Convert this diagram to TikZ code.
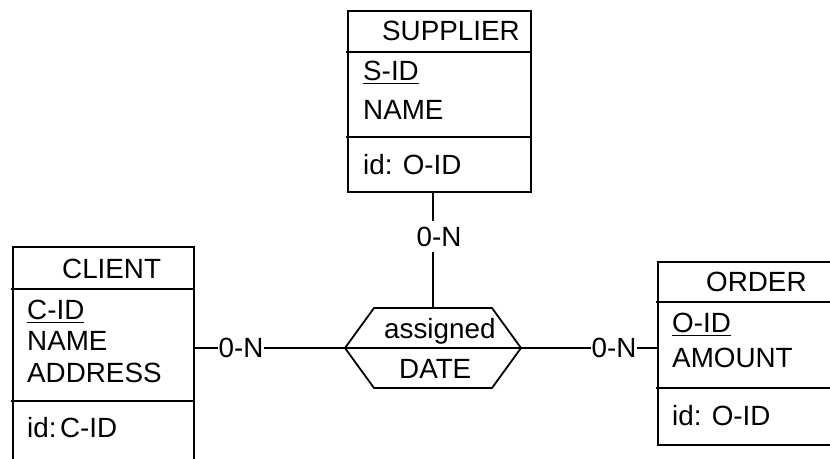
\documentclass[tikz,border=0pt]{standalone}
\usepackage{fontspec}
\setmainfont{Liberation Sans}
\newcommand\myul[1]{\setbox0\hbox{#1}\rlap{\rule[-4.4pt]{\wd0}{1.7pt}}\box0}
\tikzset{
  ent/.style={draw, line width=1.8pt, inner sep=0pt, outer sep=0pt, anchor=north west},
  txt/.style={anchor=base west, inner sep=0pt, font=\fontsize{27.8}{32}\selectfont},
  card/.style={anchor=base, inner xsep=0.5pt, inner ysep=0.5pt, fill=white, font=\fontsize{27.8}{32}\selectfont},
  ln/.style={line width=1.8pt},
}
\begin{document}
\begin{tikzpicture}[x=1pt,y=-1pt]
\useasboundingbox (0,0) rectangle (830,458);
\clip (0,0) rectangle (830,458);
% entity boxes
\node[ent, minimum width=183, minimum height=181] (sup) at (348,11) {};
\node[ent, minimum width=181, minimum height=230] (cli) at (13,247) {};
\node[ent, minimum width=190, minimum height=183] (ord) at (658,262) {};
% dividers
\draw[ln] (346,52) -- (sup.east |- 346,52);
\draw[ln] (346,137) -- (sup.east |- 346,137);
\draw[ln] (11,289) -- (cli.east |- 11,289);
\draw[ln] (11,401) -- (cli.east |- 11,401);
\draw[ln] (656,302) -- (ord.east |- 656,302);
\draw[ln] (656,388) -- (ord.east |- 656,388);
% supplier texts
\node[txt] (supT) at (382,40) {SUPPLIER};
\node[txt] (supA) at (363,80) {\myul{S-ID}};
\node[txt] (supB) at (363,119) {NAME};
\node[txt] (supC) at (363,174) {id: O-ID};
% client texts
\node[txt] (cliT) at (62,278) {CLIENT};
\node[txt] (cliA) at (27,319) {\myul{C-ID}};
\node[txt] (cliB) at (27,350) {NAME};
\node[txt] (cliC) at (27,382) {ADDRESS};
\node[txt] (cliD) at (27,437) {id:\hspace{3.5pt}C-ID};
% order texts
\node[txt] (ordT) at (706,291) {ORDER};
\node[txt] (ordA) at (672,332) {\myul{O-ID}};
\node[txt] (ordB) at (672,367) {AMOUNT};
\node[txt] (ordC) at (672,425) {id: O-ID};
% relationship
\node[minimum width=176, minimum height=80, inner sep=0pt, outer sep=0pt] (rel) at (433,348) {};
\coordinate (hl) at (345,348);
\coordinate (hr) at (521,348);
\draw[ln, line join=miter] (374,308) -- (492,308) -- (hr) -- (492,388) -- (374,388) -- (hl) -- cycle;
\draw[ln] (hl) -- (hr);
\node[txt] (relT) at (384,338) {assigned};
\node[txt] (relA) at (399,378) {DATE};
% connectors
\draw[ln] (rel.north) -- (rel.north |- sup.south);
\draw[ln] (cli.east |- hl) -- (hl);
\draw[ln] (hr) -- (hr -| ord.west);
\node[card, inner ysep=6pt] (c1) at (439,246) {0-N};
\node[card] (c2) at (241,357) {0-N};
\node[card] (c3) at (614,357) {0-N};
\end{tikzpicture}
\end{document}
